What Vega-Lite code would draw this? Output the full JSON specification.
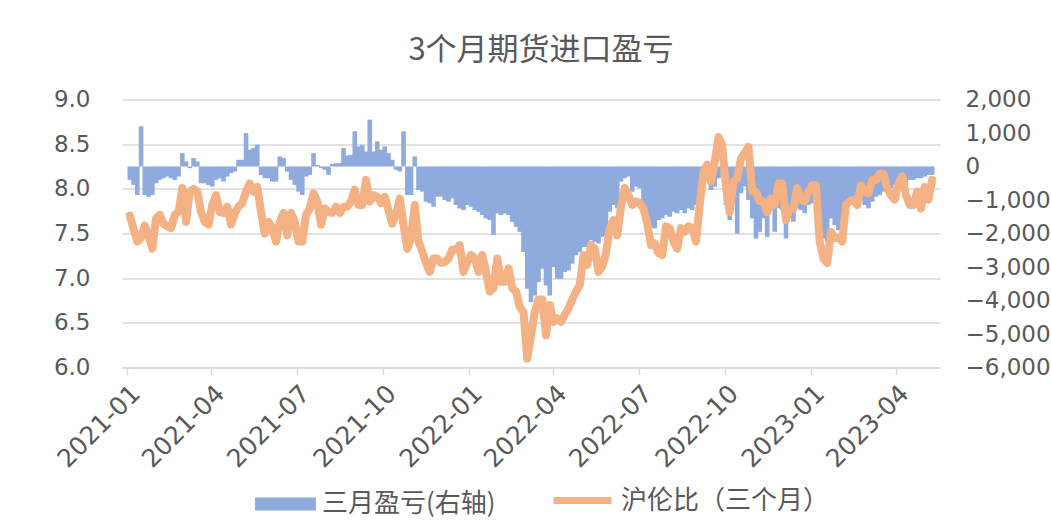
{
"$schema":"https://vega.github.io/schema/vega-lite/v6.json",
"width":818,"height":268,
"autosize":{"type":"none"},
"padding":{"left":122,"top":99.5,"right":111,"bottom":162.5},
"background":"white",
"title":{"text":"3个月期货进口盈亏","font":"Noto Sans CJK SC","fontSize":31,"fontWeight":"normal","color":"#595959","anchor":"middle","frame":"group","dx":10,"offset":22},
"config":{"view":{"stroke":null},
"axis":{"labelFont":"DejaVu Sans","labelFontSize":23,"labelColor":"#595959","gridColor":"#D9D9D9","gridWidth":1.5,"domainColor":"#D9D9D9","tickColor":"#D9D9D9","title":null}},
"data":{"values":[
{"date":"2021-01-04","pl":-400,"ratio":7.70},
{"date":"2021-01-08","pl":-550,"ratio":7.55},
{"date":"2021-01-12","pl":-850,"ratio":7.41},
{"date":"2021-01-16","pl":1200,"ratio":7.45},
{"date":"2021-01-20","pl":-850,"ratio":7.59},
{"date":"2021-01-24","pl":-900,"ratio":7.48},
{"date":"2021-01-28","pl":-850,"ratio":7.33},
{"date":"2021-02-01","pl":-500,"ratio":7.67},
{"date":"2021-02-05","pl":-400,"ratio":7.71},
{"date":"2021-02-09","pl":-350,"ratio":7.61},
{"date":"2021-02-13","pl":-300,"ratio":7.58},
{"date":"2021-02-17","pl":-350,"ratio":7.56},
{"date":"2021-02-21","pl":-400,"ratio":7.71},
{"date":"2021-02-25","pl":-300,"ratio":7.74},
{"date":"2021-03-01","pl":400,"ratio":8.01},
{"date":"2021-03-05","pl":150,"ratio":7.63},
{"date":"2021-03-09","pl":-50,"ratio":7.97},
{"date":"2021-03-13","pl":250,"ratio":8.00},
{"date":"2021-03-17","pl":150,"ratio":7.97},
{"date":"2021-03-21","pl":-500,"ratio":7.74},
{"date":"2021-03-25","pl":-500,"ratio":7.63},
{"date":"2021-03-29","pl":-550,"ratio":7.60},
{"date":"2021-04-02","pl":-600,"ratio":7.82},
{"date":"2021-04-06","pl":-400,"ratio":7.93},
{"date":"2021-04-10","pl":-350,"ratio":7.74},
{"date":"2021-04-14","pl":-450,"ratio":7.73},
{"date":"2021-04-18","pl":-300,"ratio":7.80},
{"date":"2021-04-22","pl":-200,"ratio":7.60},
{"date":"2021-04-26","pl":-150,"ratio":7.73},
{"date":"2021-04-30","pl":200,"ratio":7.80},
{"date":"2021-05-04","pl":200,"ratio":7.84},
{"date":"2021-05-08","pl":1000,"ratio":7.97},
{"date":"2021-05-12","pl":500,"ratio":8.06},
{"date":"2021-05-16","pl":550,"ratio":7.97},
{"date":"2021-05-20","pl":650,"ratio":8.02},
{"date":"2021-05-24","pl":-250,"ratio":7.74},
{"date":"2021-05-28","pl":-350,"ratio":7.50},
{"date":"2021-06-01","pl":-350,"ratio":7.63},
{"date":"2021-06-05","pl":-450,"ratio":7.56},
{"date":"2021-06-09","pl":-450,"ratio":7.41},
{"date":"2021-06-13","pl":300,"ratio":7.63},
{"date":"2021-06-17","pl":250,"ratio":7.73},
{"date":"2021-06-21","pl":-150,"ratio":7.48},
{"date":"2021-06-25","pl":-400,"ratio":7.73},
{"date":"2021-06-29","pl":-550,"ratio":7.63},
{"date":"2021-07-03","pl":-750,"ratio":7.41},
{"date":"2021-07-07","pl":-850,"ratio":7.41},
{"date":"2021-07-11","pl":-300,"ratio":7.71},
{"date":"2021-07-15","pl":-250,"ratio":7.78},
{"date":"2021-07-19","pl":400,"ratio":7.95},
{"date":"2021-07-23","pl":50,"ratio":7.86},
{"date":"2021-07-27","pl":-50,"ratio":7.60},
{"date":"2021-07-31","pl":-100,"ratio":7.78},
{"date":"2021-08-04","pl":-250,"ratio":7.74},
{"date":"2021-08-08","pl":80,"ratio":7.73},
{"date":"2021-08-12","pl":100,"ratio":7.80},
{"date":"2021-08-16","pl":100,"ratio":7.73},
{"date":"2021-08-20","pl":550,"ratio":7.80},
{"date":"2021-08-24","pl":330,"ratio":7.80},
{"date":"2021-08-28","pl":350,"ratio":7.86},
{"date":"2021-09-01","pl":1050,"ratio":7.99},
{"date":"2021-09-05","pl":600,"ratio":7.82},
{"date":"2021-09-09","pl":650,"ratio":7.82},
{"date":"2021-09-13","pl":450,"ratio":8.10},
{"date":"2021-09-17","pl":1400,"ratio":7.86},
{"date":"2021-09-21","pl":450,"ratio":7.93},
{"date":"2021-09-25","pl":750,"ratio":7.91},
{"date":"2021-09-29","pl":500,"ratio":7.84},
{"date":"2021-10-03","pl":600,"ratio":7.91},
{"date":"2021-10-07","pl":400,"ratio":7.76},
{"date":"2021-10-11","pl":200,"ratio":7.61},
{"date":"2021-10-15","pl":-100,"ratio":7.71},
{"date":"2021-10-19","pl":-150,"ratio":7.89},
{"date":"2021-10-23","pl":1050,"ratio":7.60},
{"date":"2021-10-27","pl":-850,"ratio":7.33},
{"date":"2021-10-31","pl":-850,"ratio":7.45},
{"date":"2021-11-04","pl":300,"ratio":7.82},
{"date":"2021-11-08","pl":-700,"ratio":7.41},
{"date":"2021-11-12","pl":-750,"ratio":7.30},
{"date":"2021-11-16","pl":-1050,"ratio":7.17},
{"date":"2021-11-20","pl":-1100,"ratio":7.07},
{"date":"2021-11-24","pl":-1200,"ratio":7.22},
{"date":"2021-11-28","pl":-900,"ratio":7.22},
{"date":"2021-12-02","pl":-900,"ratio":7.17},
{"date":"2021-12-06","pl":-1000,"ratio":7.18},
{"date":"2021-12-10","pl":-1050,"ratio":7.22},
{"date":"2021-12-14","pl":-950,"ratio":7.32},
{"date":"2021-12-18","pl":-1150,"ratio":7.32},
{"date":"2021-12-22","pl":-1250,"ratio":7.37},
{"date":"2021-12-26","pl":-1300,"ratio":7.07},
{"date":"2021-12-30","pl":-1150,"ratio":7.18},
{"date":"2022-01-03","pl":-1200,"ratio":7.26},
{"date":"2022-01-07","pl":-1300,"ratio":7.22},
{"date":"2022-01-11","pl":-1350,"ratio":7.07},
{"date":"2022-01-15","pl":-1450,"ratio":7.26},
{"date":"2022-01-19","pl":-1550,"ratio":7.07},
{"date":"2022-01-23","pl":-1600,"ratio":6.85},
{"date":"2022-01-27","pl":-2050,"ratio":6.89},
{"date":"2022-01-31","pl":-1400,"ratio":7.22},
{"date":"2022-02-04","pl":-1450,"ratio":6.96},
{"date":"2022-02-08","pl":-1400,"ratio":6.96},
{"date":"2022-02-12","pl":-1450,"ratio":7.11},
{"date":"2022-02-16","pl":-1650,"ratio":6.89},
{"date":"2022-02-20","pl":-1800,"ratio":6.85},
{"date":"2022-02-24","pl":-1950,"ratio":6.68},
{"date":"2022-02-28","pl":-2550,"ratio":6.62},
{"date":"2022-03-04","pl":-3650,"ratio":6.10},
{"date":"2022-03-08","pl":-4050,"ratio":6.36},
{"date":"2022-03-12","pl":-3850,"ratio":6.62},
{"date":"2022-03-16","pl":-3450,"ratio":6.76},
{"date":"2022-03-20","pl":-3050,"ratio":6.76},
{"date":"2022-03-24","pl":-3550,"ratio":6.36},
{"date":"2022-03-28","pl":-3850,"ratio":6.70},
{"date":"2022-04-01","pl":-3000,"ratio":6.51},
{"date":"2022-04-05","pl":-3350,"ratio":6.55},
{"date":"2022-04-09","pl":-3350,"ratio":6.51},
{"date":"2022-04-13","pl":-3150,"ratio":6.59},
{"date":"2022-04-17","pl":-3100,"ratio":6.66},
{"date":"2022-04-21","pl":-2900,"ratio":6.76},
{"date":"2022-04-25","pl":-2650,"ratio":6.85},
{"date":"2022-04-29","pl":-2550,"ratio":6.92},
{"date":"2022-05-03","pl":-2400,"ratio":7.26},
{"date":"2022-05-07","pl":-2400,"ratio":7.15},
{"date":"2022-05-11","pl":-2200,"ratio":7.37},
{"date":"2022-05-15","pl":-2250,"ratio":7.33},
{"date":"2022-05-19","pl":-2300,"ratio":7.07},
{"date":"2022-05-23","pl":-2100,"ratio":7.13},
{"date":"2022-05-27","pl":-2050,"ratio":7.28},
{"date":"2022-05-31","pl":-1350,"ratio":7.56},
{"date":"2022-06-04","pl":-1150,"ratio":7.65},
{"date":"2022-06-08","pl":-1250,"ratio":7.48},
{"date":"2022-06-12","pl":-450,"ratio":7.80},
{"date":"2022-06-16","pl":-350,"ratio":8.01},
{"date":"2022-06-20","pl":-300,"ratio":7.93},
{"date":"2022-06-24","pl":-750,"ratio":7.82},
{"date":"2022-06-28","pl":-600,"ratio":7.86},
{"date":"2022-07-02","pl":-650,"ratio":7.84},
{"date":"2022-07-06","pl":-1250,"ratio":7.78},
{"date":"2022-07-10","pl":-1650,"ratio":7.61},
{"date":"2022-07-14","pl":-1800,"ratio":7.37},
{"date":"2022-07-18","pl":-1850,"ratio":7.39},
{"date":"2022-07-22","pl":-1600,"ratio":7.28},
{"date":"2022-07-26","pl":-1550,"ratio":7.26},
{"date":"2022-07-30","pl":-1450,"ratio":7.58},
{"date":"2022-08-03","pl":-1500,"ratio":7.56},
{"date":"2022-08-07","pl":-1350,"ratio":7.41},
{"date":"2022-08-11","pl":-1400,"ratio":7.33},
{"date":"2022-08-15","pl":-1300,"ratio":7.56},
{"date":"2022-08-19","pl":-1400,"ratio":7.52},
{"date":"2022-08-23","pl":-1250,"ratio":7.58},
{"date":"2022-08-27","pl":-1300,"ratio":7.56},
{"date":"2022-08-31","pl":-1150,"ratio":7.41},
{"date":"2022-09-04","pl":-750,"ratio":7.82},
{"date":"2022-09-08","pl":-400,"ratio":8.19},
{"date":"2022-09-12","pl":-30,"ratio":8.27},
{"date":"2022-09-16","pl":-700,"ratio":8.08},
{"date":"2022-09-20","pl":-600,"ratio":8.30},
{"date":"2022-09-24","pl":-350,"ratio":8.58},
{"date":"2022-09-28","pl":-150,"ratio":8.49},
{"date":"2022-10-02","pl":-1150,"ratio":8.01},
{"date":"2022-10-06","pl":-1600,"ratio":7.74},
{"date":"2022-10-10","pl":-950,"ratio":8.08},
{"date":"2022-10-14","pl":-2000,"ratio":8.12},
{"date":"2022-10-18","pl":-800,"ratio":8.34},
{"date":"2022-10-22","pl":-600,"ratio":8.40},
{"date":"2022-10-26","pl":-1000,"ratio":8.47},
{"date":"2022-10-30","pl":-1550,"ratio":7.97},
{"date":"2022-11-03","pl":-2150,"ratio":7.97},
{"date":"2022-11-07","pl":-1950,"ratio":7.86},
{"date":"2022-11-11","pl":-1550,"ratio":7.86},
{"date":"2022-11-15","pl":-2100,"ratio":7.74},
{"date":"2022-11-19","pl":-1250,"ratio":7.89},
{"date":"2022-11-23","pl":-1950,"ratio":7.82},
{"date":"2022-11-27","pl":-1250,"ratio":8.06},
{"date":"2022-12-01","pl":-1300,"ratio":8.06},
{"date":"2022-12-05","pl":-2150,"ratio":7.65},
{"date":"2022-12-09","pl":-1550,"ratio":7.78},
{"date":"2022-12-13","pl":-1650,"ratio":7.78},
{"date":"2022-12-17","pl":-1250,"ratio":8.01},
{"date":"2022-12-21","pl":-1300,"ratio":7.88},
{"date":"2022-12-25","pl":-1400,"ratio":7.86},
{"date":"2022-12-29","pl":-1150,"ratio":7.97},
{"date":"2023-01-02","pl":-1100,"ratio":8.04},
{"date":"2023-01-06","pl":-850,"ratio":8.04},
{"date":"2023-01-10","pl":-1450,"ratio":7.41},
{"date":"2023-01-14","pl":-2150,"ratio":7.22},
{"date":"2023-01-18","pl":-2250,"ratio":7.17},
{"date":"2023-01-22","pl":-1550,"ratio":7.52},
{"date":"2023-01-26","pl":-1750,"ratio":7.45},
{"date":"2023-01-30","pl":-1900,"ratio":7.45},
{"date":"2023-02-03","pl":-1750,"ratio":7.41},
{"date":"2023-02-07","pl":-1300,"ratio":7.82},
{"date":"2023-02-11","pl":-1150,"ratio":7.86},
{"date":"2023-02-15","pl":-1100,"ratio":7.88},
{"date":"2023-02-19","pl":-1050,"ratio":7.82},
{"date":"2023-02-23","pl":-1000,"ratio":8.04},
{"date":"2023-02-27","pl":-1150,"ratio":7.97},
{"date":"2023-03-03","pl":-1250,"ratio":7.95},
{"date":"2023-03-07","pl":-1050,"ratio":8.10},
{"date":"2023-03-11","pl":-900,"ratio":8.10},
{"date":"2023-03-15","pl":-850,"ratio":8.17},
{"date":"2023-03-19","pl":-750,"ratio":8.17},
{"date":"2023-03-23","pl":-750,"ratio":8.01},
{"date":"2023-03-27","pl":-650,"ratio":7.93},
{"date":"2023-03-31","pl":-550,"ratio":7.88},
{"date":"2023-04-04","pl":-500,"ratio":8.06},
{"date":"2023-04-08","pl":-550,"ratio":8.14},
{"date":"2023-04-12","pl":-550,"ratio":7.93},
{"date":"2023-04-16","pl":-400,"ratio":7.82},
{"date":"2023-04-20","pl":-400,"ratio":7.82},
{"date":"2023-04-24","pl":-350,"ratio":7.97},
{"date":"2023-04-28","pl":-350,"ratio":7.78},
{"date":"2023-05-02","pl":-300,"ratio":8.02},
{"date":"2023-05-06","pl":-250,"ratio":7.88},
{"date":"2023-05-10","pl":-250,"ratio":8.10}
]},
"layer":[
{"mark":{"type":"bar","width":4.6},
"encoding":{
"x":{"field":"date","type":"temporal",
"scale":{"type":"utc","domain":[{"year":2021,"month":1,"date":1,"utc":true},{"year":2023,"month":5,"date":13,"utc":true}]},
"axis":{"values":[{"year":2021,"month":1,"date":1,"utc":true},{"year":2021,"month":4,"date":1,"utc":true},{"year":2021,"month":7,"date":1,"utc":true},{"year":2021,"month":10,"date":1,"utc":true},{"year":2022,"month":1,"date":1,"utc":true},{"year":2022,"month":4,"date":1,"utc":true},{"year":2022,"month":7,"date":1,"utc":true},{"year":2022,"month":10,"date":1,"utc":true},{"year":2023,"month":1,"date":1,"utc":true},{"year":2023,"month":4,"date":1,"utc":true}],
"format":"%Y-%m","labelAngle":-45,"labelAlign":"right","labelBaseline":"top","labelOffset":0,"labelPadding":6,"labelFontSize":25,"grid":false,"domain":true,"domainWidth":1.5,"ticks":true,"tickSize":7,"tickWidth":1.5,"labelOverlap":false,"labelFlush":false,"labelBound":false}},
"y":{"field":"pl","type":"quantitative","scale":{"domain":[-6000,2000],"nice":false},
"axis":{"orient":"right","values":[-6000,-5000,-4000,-3000,-2000,-1000,0,1000,2000],"format":",.0f","grid":false,"domain":false,"ticks":false,"labelPadding":25}},
"fill":{"datum":"三月盈亏(右轴)","type":"nominal","scale":{"range":["#8FAADC"]},
"legend":{"title":null,"orient":"none","legendX":133,"legendY":374,"padding":0,"symbolType":"M-1,-0.213H1V0.213H-1Z","symbolSize":3721,"symbolStrokeWidth":0,"labelFont":"Noto Sans CJK SC","labelFontSize":26,"labelColor":"#595959","labelOffset":6,"labelLimit":400}}
}},
{"mark":{"type":"line","strokeWidth":8,"strokeCap":"round","strokeJoin":"round"},
"encoding":{
"x":{"field":"date","type":"temporal"},
"y":{"field":"ratio","type":"quantitative","scale":{"domain":[6,9],"nice":false,"zero":false},
"axis":{"orient":"left","values":[6,6.5,7,7.5,8,8.5,9],"format":".1f","grid":true,"domain":false,"ticks":false,"labelPadding":32}},
"stroke":{"datum":"沪伦比（三个月）","type":"nominal","scale":{"range":["#F4B183"]},
"legend":{"title":null,"orient":"none","legendX":428,"legendY":368.5,"padding":0,"symbolType":"stroke","symbolSize":3364,"symbolStrokeWidth":7,"labelFont":"Noto Sans CJK SC","labelFontSize":26,"labelColor":"#595959","labelOffset":6,"labelLimit":400}}
}}
],
"resolve":{"scale":{"y":"independent"}}
}
